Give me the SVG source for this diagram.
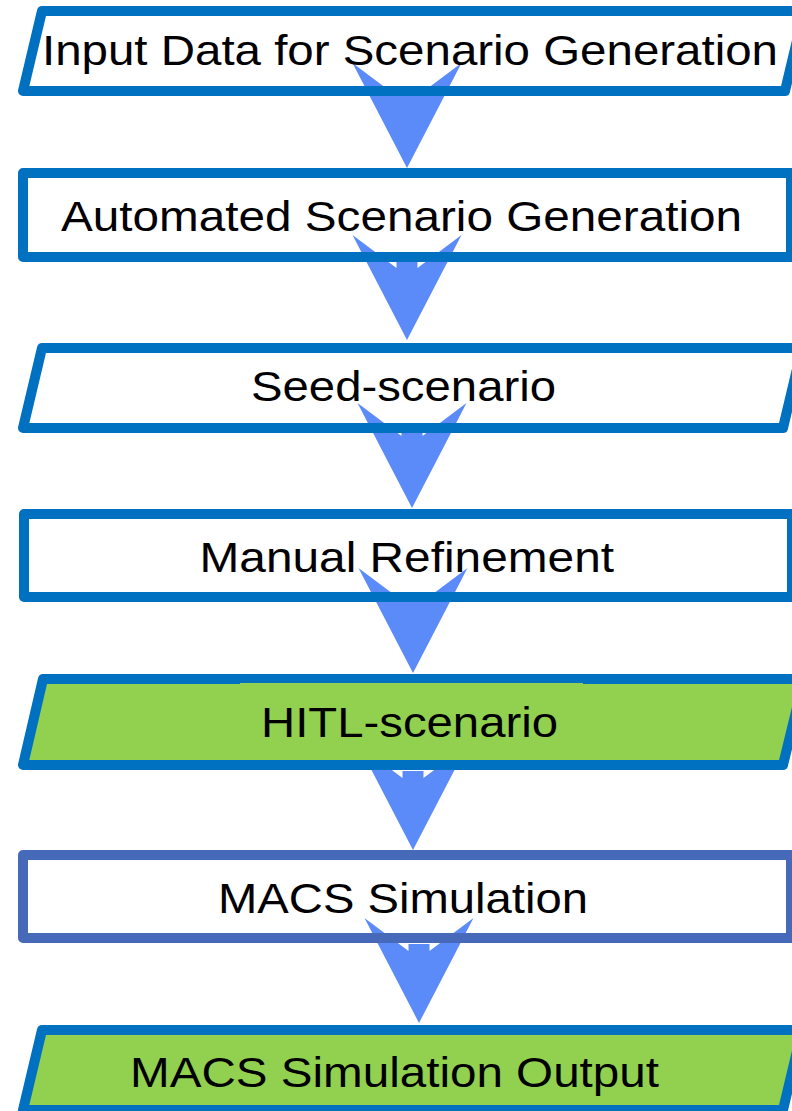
<svg xmlns="http://www.w3.org/2000/svg" xmlns:xlink="http://www.w3.org/1999/xlink" width="792" height="1111" viewBox="0 0 792 1111">
  <style>
    .edge { fill: none; stroke: #0070C0; stroke-width: 10; stroke-linejoin: round; }
    .edge.alt { stroke: #4769BA; }
    .plain { fill: #FFFFFF; stroke: none; }
    .green { fill: #92D050; stroke: none; }
    .label { font-family: "Liberation Sans", Arial, sans-serif; font-size: 42px; fill: #000000; }
    .arrow { fill: #5B8BF8; }
  </style>
  <defs>
    <!-- wide stealth-style arrowhead with a short stem; origin at the tip -->
    <path id="head" class="arrow" d="M0,0 L-54.5,-105 L-10.5,-72 L-10.5,-79 L10.5,-79 L10.5,-72 L54.5,-105 Z"/>
  </defs>

  <rect width="792" height="1111" fill="#FFFFFF"/>

  <!-- shape fills -->
  <g id="fills">
    <polygon class="plain" points="42,11 804,11 785,91 23,91"/>
    <rect class="plain" x="23" y="173" width="768" height="84"/>
    <polygon class="plain" points="42,348 802,348 783,428 23,428"/>
    <rect class="plain" x="24" y="514" width="768" height="83"/>
    <polygon class="green" points="43,679 804,679 783,765 23,765"/>
    <rect class="plain" x="23" y="855" width="768" height="83"/>
    <polygon class="green" points="42,1030 802,1030 783,1110 23,1110"/>
  </g>

  <!-- connectors -->
  <g id="connectors">
    <use xlink:href="#head" x="407" y="168"/>
    <use xlink:href="#head" x="407" y="340"/>
    <use xlink:href="#head" x="412" y="508"/>
    <use xlink:href="#head" x="413" y="673"/>
    <use xlink:href="#head" x="413" y="850"/>
    <use xlink:href="#head" x="419" y="1023"/>
  </g>

  <g id="input-data">
    <polygon class="edge" points="42,11 804,11 785,91 23,91"/>
    <text class="label" x="42" y="65" textLength="736" lengthAdjust="spacingAndGlyphs">Input Data for Scenario Generation</text>
  </g>

  <g id="automated-generation">
    <rect class="edge" x="23" y="173" width="768" height="84"/>
    <text class="label" x="61" y="231" textLength="681" lengthAdjust="spacingAndGlyphs">Automated Scenario Generation</text>
  </g>

  <g id="seed-scenario">
    <polygon class="edge" points="42,348 802,348 783,428 23,428"/>
    <text class="label" x="251" y="401" textLength="305" lengthAdjust="spacingAndGlyphs">Seed-scenario</text>
  </g>

  <g id="manual-refinement">
    <rect class="edge" x="24" y="514" width="768" height="83"/>
    <text class="label" x="199.5" y="572" textLength="414.5" lengthAdjust="spacingAndGlyphs">Manual Refinement</text>
  </g>

  <g id="hitl-scenario">
    <polygon class="edge" points="43,679 804,679 783,765 23,765"/>
    <rect class="green" x="240" y="683" width="343" height="77"/>
    <text class="label" x="261" y="737" textLength="297" lengthAdjust="spacingAndGlyphs">HITL-scenario</text>
  </g>

  <g id="macs-simulation">
    <rect class="edge alt" x="23" y="855" width="768" height="83"/>
    <text class="label" x="218" y="913" textLength="370" lengthAdjust="spacingAndGlyphs">MACS Simulation</text>
  </g>

  <g id="simulation-output">
    <polygon class="edge" points="42,1030 802,1030 783,1110 23,1110"/>
    <text class="label" x="130" y="1087" textLength="529" lengthAdjust="spacingAndGlyphs">MACS Simulation Output</text>
  </g>
</svg>
